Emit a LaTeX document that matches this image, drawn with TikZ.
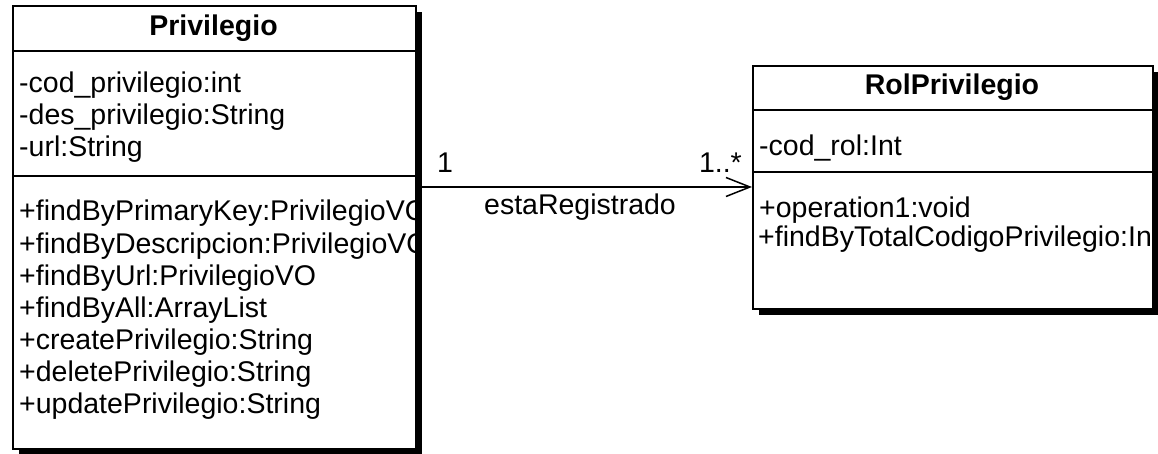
\documentclass[tikz,border=0pt]{standalone}
\usepackage{fontspec}
\setmainfont{Liberation Sans}
\usetikzlibrary{arrows.meta,shadows}
\begin{document}
\begin{tikzpicture}[x=1pt,y=-1pt,
  umlbox/.style={draw=black, line width=1.6pt, fill=white, inner sep=0pt,
    drop shadow={shadow xshift=6pt, shadow yshift=-6pt, fill=black, opacity=1}},
  txt/.style={inner sep=0pt, anchor=base west, font=\fontsize{28.5}{32}\selectfont},
  ttl/.style={inner sep=0pt, anchor=base, font=\fontsize{28.5}{32}\selectfont\bfseries},
  lbl/.style={inner sep=0pt, font=\fontsize{28.5}{32}\selectfont},
  divider/.style={line width=1.6pt},
  assoc/.style={line width=1.5pt, -{Straight Barb[length=24pt, width=19pt, line width=1.5pt]}}
]
\useasboundingbox (0,0) rectangle (1158,454);
\fill[white] (0,0) rectangle (1158,454);

% boxes
\node[umlbox, anchor=north west, minimum width=403pt, minimum height=443pt] (priv) at (12,5) {};
\node[umlbox, anchor=north west, minimum width=400pt, minimum height=243pt] (rol) at (752,65) {};

% dividers
\draw[divider] (priv.west |- 0,51) -- (priv.east |- 0,51);
\draw[divider] (priv.west |- 0,176) -- (priv.east |- 0,176);
\draw[divider] (rol.west |- 0,110) -- (rol.east |- 0,110);
\draw[divider] (rol.west |- 0,172) -- (rol.east |- 0,172);

% association
\coordinate (a1) at (priv.east |- 0,187);
\coordinate (a2) at (rol.west |- 0,187);
\draw[assoc] (a1) -- (a2);
\node[lbl, anchor=base west] (m1) at (437,173) {1};
\node[lbl, anchor=base east] (m2) at (742,173) {1..*};
\node[lbl, anchor=base] (aname) at (580,215) {estaRegistrado};

% Privilegio texts
\node[ttl] (ptitle) at (213.5,36) {Privilegio};
\begin{scope}
\clip (priv.north west) rectangle (priv.south east);
\node[txt] (pa1) at (19,93) {-cod\_privilegio:int};
\node[txt] (pa2) at (19,125) {-des\_privilegio:String};
\node[txt] (pa3) at (19,157) {-url:String};
\node[txt] (pm1) at (19,221) {+findByPrimaryKey:PrivilegioVO};
\node[txt] (pm2) at (19,253) {+findByDescripcion:PrivilegioVO};
\node[txt] (pm3) at (19,285) {+findByUrl:PrivilegioVO};
\node[txt] (pm4) at (19,317) {+findByAll:ArrayList};
\node[txt] (pm5) at (19,349) {+createPrivilegio:String};
\node[txt] (pm6) at (19,381) {+deletePrivilegio:String};
\node[txt] (pm7) at (19,413) {+updatePrivilegio:String};
\end{scope}

% RolPrivilegio texts
\node[ttl] (rtitle) at (952,95) {RolPrivilegio};
\begin{scope}
\clip (rol.north west) rectangle (rol.south east);
\node[txt] (ra1) at (759,156) {-cod\_rol:Int};
\node[txt] (rm1) at (759,218) {+operation1:void};
\node[txt] (rm2) at (758,247) {+findByTotalCodigoPrivilegio:Int};
\end{scope}
\end{tikzpicture}
\end{document}
